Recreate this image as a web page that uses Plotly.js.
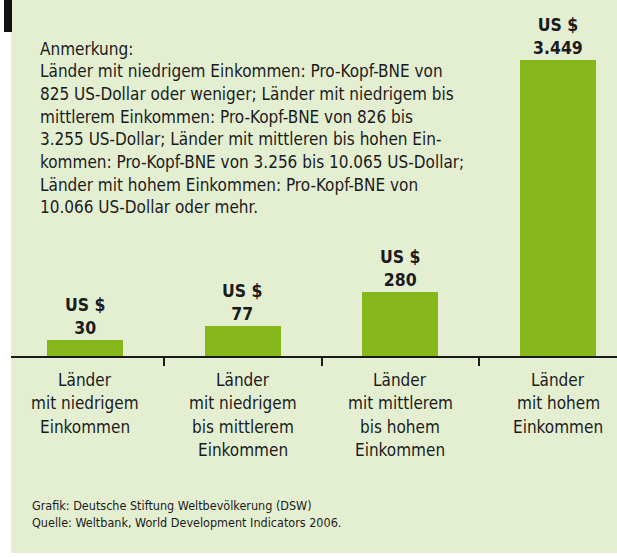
<!DOCTYPE html>
<html>
<head>
<meta charset="utf-8">
<script src="https://cdn.plot.ly/plotly-3.0.1.min.js"></script>
<style>html,body{margin:0;padding:0;background:#fff;}#chart{width:617px;height:558px;}</style>
</head>
<body>
<div id="chart"></div>
<script>
// Data
var categories = [
  "Länder<br>mit niedrigem<br>Einkommen",
  "Länder<br>mit niedrigem<br>bis mittlerem<br>Einkommen",
  "Länder<br>mit mittlerem<br>bis hohem<br>Einkommen",
  "Länder<br>mit hohem<br>Einkommen"
];
var values = [30, 77, 280, 3449];            // US-$ values shown in labels
var valueLabels = ["30", "77", "280", "3.449"];
// drawn bar heights as they appear in the (non-proportional) graphic
var barHeights = [16, 30, 64, 296];
var noteLines = [
  "Anmerkung:",
  "Länder mit niedrigem Einkommen: Pro-Kopf-BNE von",
  "825 US-Dollar oder weniger; Länder mit niedrigem bis",
  "mittlerem Einkommen: Pro-Kopf-BNE von 826 bis",
  "3.255 US-Dollar; Länder mit mittleren bis hohen Ein-",
  "kommen: Pro-Kopf-BNE von 3.256 bis 10.065 US-Dollar;",
  "Länder mit hohem Einkommen: Pro-Kopf-BNE von",
  "10.066 US-Dollar oder mehr."
];
var footerLines = [
  "Grafik: Deutsche Stiftung Weltbevölkerung (DSW)",
  "Quelle: Weltbank, World Development Indicators 2006."
];

var W = 617, H = 558;
var FONT = "'Liberation Sans Narrow', 'DejaVu Sans Condensed', Arial, sans-serif";
var TXT = "#1b1b1b";
var step = 157.7, c0 = 85, base = 356;
function px2x(px){ return (px - c0) / step; }
function py2y(py){ return base - py; }

var xs = categories.map(function(_, i){ return i; });

var trace = {
  type: "bar",
  x: xs,
  y: barHeights,
  width: 0.482,
  marker: {color: "#86b81b", line: {width: 0}},
  hoverinfo: "skip"
};

var annotations = [];
xs.forEach(function(x, i){
  annotations.push({
    x: x, y: barHeights[i], xref: "x", yref: "y",
    text: "<b>US $</b><br><b>" + valueLabels[i] + "</b>",
    showarrow: false, xanchor: "center", yanchor: "bottom", yshift: 0,
    font: {family: FONT, size: 17.5, color: TXT}, align: "center"
  });
  categories[i].split("<br>").forEach(function(line, k){
    annotations.push({
      x: x, y: py2y(380 + 23.4 * k), xref: "x", yref: "y",
      text: line,
      showarrow: false, xanchor: "center", yanchor: "middle",
      font: {family: FONT, size: 17, color: TXT}, align: "center"
    });
  });
});
noteLines.forEach(function(line, k){
  annotations.push({
    x: px2x(38), y: py2y(48.5 + 22.7 * k), xref: "x", yref: "y",
    text: line, showarrow: false, xanchor: "left", yanchor: "middle",
    align: "left", font: {family: FONT, size: 17, color: TXT}
  });
});
footerLines.forEach(function(line, k){
  annotations.push({
    x: px2x(30), y: py2y(505 + 17 * k), xref: "x", yref: "y",
    text: line, showarrow: false, xanchor: "left", yanchor: "middle",
    align: "left", font: {family: FONT, size: 12.5, color: TXT}
  });
});

var layout = {
  width: W, height: H,
  margin: {l: 0, r: 0, t: 0, b: 0, pad: 0},
  paper_bgcolor: "#ffffff",
  plot_bgcolor: "#e4efd2",
  showlegend: false,
  bargap: 0,
  xaxis: {
    domain: [11 / W, 1],
    range: [px2x(11), px2x(617)],
    anchor: "free", position: (H - 356.5) / H,
    showline: true, linecolor: "#1b1b1b", linewidth: 2,
    showgrid: false, zeroline: false,
    tickmode: "array", tickvals: [0.5, 1.5, 2.5],
    ticks: "outside", ticklen: 8, tickwidth: 2, tickcolor: "#1b1b1b",
    showticklabels: false, fixedrange: true
  },
  yaxis: {
    domain: [5 / H, 1],
    range: [-(553 - base), base],
    visible: false, showgrid: false, zeroline: false, fixedrange: true
  },
  shapes: [{
    type: "rect", xref: "paper", yref: "paper",
    x0: 4 / W, x1: 12 / W, y0: 1 - 32 / H, y1: 1,
    fillcolor: "#111111", line: {width: 0}, layer: "above"
  }],
  annotations: annotations
};

Plotly.newPlot("chart", [trace], layout, {displayModeBar: false, staticPlot: true});
</script>
</body>
</html>
